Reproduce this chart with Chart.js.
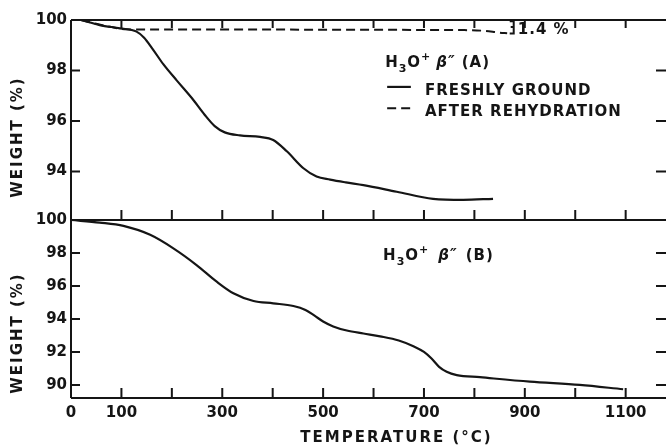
<!DOCTYPE html>
<html>
<head>
<meta charset="UTF-8">
<title>TGA H3O+ beta'' alumina</title>
<script src="https://cdn.jsdelivr.net/npm/chart.js"></script>
<style>
  html, body { margin: 0; padding: 0; background: #fff; overflow: hidden; }
  #wrap { width: 666px; height: 445px; }
</style>
</head>
<body>
<div id="wrap"><canvas id="tga" width="666" height="445"></canvas></div>
<script>
// --- data ---
// panel A, freshly ground
var tempA = [20, 57, 97, 130, 145, 162, 183, 210, 240, 265, 285, 305, 335, 375, 401, 428, 461, 487, 514, 545, 580, 646, 718, 778, 837];
var weightA = [100, 99.8, 99.67, 99.54, 99.3, 98.85, 98.25, 97.6, 96.9, 96.25, 95.8, 95.55, 95.43, 95.37, 95.25, 94.8, 94.13, 93.8, 93.68, 93.57, 93.46, 93.2, 92.92, 92.88, 92.92];
// panel A, after rehydration (dashed)
var tempARehyd = [20, 50, 80, 110, 200, 400, 600, 780, 820, 850, 865];
var weightARehyd = [100, 99.85, 99.72, 99.63, 99.62, 99.62, 99.61, 99.6, 99.57, 99.5, 99.48];
// panel B
var tempB = [0, 57, 104, 157, 203, 249, 289, 322, 362, 401, 441, 465, 483, 500, 520, 547, 580, 613, 650, 679, 700, 715, 730, 745, 765, 811, 910, 1009, 1095];
var weightB = [100, 99.84, 99.64, 99.1, 98.28, 97.27, 96.26, 95.56, 95.09, 94.95, 94.79, 94.55, 94.2, 93.85, 93.55, 93.3, 93.12, 92.95, 92.7, 92.35, 92.0, 91.6, 91.1, 90.8, 90.6, 90.47, 90.2, 90.0, 89.74];

// axes
var xTicks = [0, 100, 200, 300, 400, 500, 600, 700, 800, 900, 1000, 1100];
var xLabels = [0, 100, 300, 500, 700, 900, 1100];
var yTicksA = [100, 98, 96, 94];
var yTicksB = [100, 98, 96, 94, 92, 90];

var ink = '#151515';
var tickFont = { family: 'DejaVu Sans', size: 15, weight: 'bold' };

function toPoints(xs, ys) {
    return xs.map(function (t, i) { return { x: t, y: ys[i] }; });
}

// text in pieces (sub/superscripts)
function drawPieces(ctx, x, y, pieces) {
    pieces.forEach(function (p) {
        ctx.font = p.font;
        ctx.fillText(p.text, x, y + (p.dy || 0));
        x += ctx.measureText(p.text).width + (p.gap || 0);
    });
}

// frame, inward ticks and the lettering
var framePlugin = {
    id: 'frame',
    afterDraw: function (chart) {
        var ctx = chart.ctx;
        var x = chart.scales.x, ya = chart.scales.yA, yb = chart.scales.yB;
        ctx.save();
        ctx.strokeStyle = ink;
        ctx.fillStyle = ink;
        ctx.lineWidth = 2;
        ctx.beginPath();
        ctx.moveTo(x.left, ya.top); ctx.lineTo(x.left, yb.bottom);
        [ya.top, ya.bottom, yb.bottom].forEach(function (y) {
            ctx.moveTo(x.left, y); ctx.lineTo(x.right, y);
        });
        xTicks.forEach(function (t) {
            if (t === 0) return;
            var px = x.getPixelForValue(t);
            ctx.moveTo(px, ya.top); ctx.lineTo(px, ya.top + 8);
            ctx.moveTo(px, ya.bottom); ctx.lineTo(px, ya.bottom - 10);
            ctx.moveTo(px, yb.bottom); ctx.lineTo(px, yb.bottom - 10);
        });
        [[ya, yTicksA], [yb, yTicksB]].forEach(function (pair) {
            pair[1].forEach(function (v) {
                if (v === 100) return;
                var py = pair[0].getPixelForValue(v);
                ctx.moveTo(x.left, py); ctx.lineTo(x.left + 9, py);
                ctx.moveTo(x.right, py); ctx.lineTo(x.right - 10, py);
            });
        });
        ctx.stroke();

        // 1.4 % bracket
        var bx = x.getPixelForValue(876);
        ctx.beginPath();
        ctx.lineWidth = 2;
        ctx.moveTo(bx - 3, ya.getPixelForValue(99.95)); ctx.lineTo(bx + 1, ya.getPixelForValue(99.95));
        ctx.lineTo(bx + 1, ya.getPixelForValue(99.47));
        ctx.lineTo(bx - 3, ya.getPixelForValue(99.47));
        ctx.moveTo(bx + 1, ya.getPixelForValue(99.72)); ctx.lineTo(bx - 2, ya.getPixelForValue(99.72));
        ctx.stroke();

        ctx.textBaseline = 'alphabetic';
        ctx.letterSpacing = '1px';
        var f = 'bold 15px "DejaVu Sans"';
        ctx.font = f;
        ctx.fillText('1.4 %', x.getPixelForValue(886), ya.getPixelForValue(99.46));

        // panel labels
        var sub = 'bold 11px "DejaVu Sans"';
        var ital = 'italic bold 15px "DejaVu Sans"';
        drawPieces(ctx, x.getPixelForValue(623), ya.getPixelForValue(98.14), [
            { text: 'H', font: f }, { text: '3', font: sub, dy: 5 }, { text: 'O', font: f },
            { text: '+', font: sub, dy: -7, gap: 5 }, { text: 'β″', font: ital, gap: 6 }, { text: '(A)', font: f }
        ]);
        drawPieces(ctx, x.getPixelForValue(619), yb.getPixelForValue(97.58), [
            { text: 'H', font: f }, { text: '3', font: sub, dy: 5 }, { text: 'O', font: f },
            { text: '+', font: sub, dy: -7, gap: 9 }, { text: 'β″', font: ital, gap: 8 }, { text: '(B)', font: f }
        ]);

        // legend
        var ds = chart.data.datasets;
        [[0, 97.35, 97.03], [1, 96.51, 96.2]].forEach(function (row) {
            var d = ds[row[0]];
            var py = ya.getPixelForValue(row[1]);
            ctx.beginPath();
            ctx.lineWidth = d.borderWidth;
            ctx.setLineDash(d.borderDash || []);
            ctx.moveTo(x.getPixelForValue(627), py);
            ctx.lineTo(x.getPixelForValue(674), py);
            ctx.stroke();
            ctx.setLineDash([]);
            ctx.font = f;
            ctx.fillText(d.label, x.getPixelForValue(702), ya.getPixelForValue(row[2]));
        });

        // axis titles
        ctx.letterSpacing = '2px';
        ctx.textAlign = 'center';
        ctx.fillText('TEMPERATURE (°C)', (x.left + x.right) / 2 + 28, chart.height - 3);
        [[ya, 137], [yb, 333]].forEach(function (pair) {
            ctx.save();
            ctx.translate(22, pair[1]);
            ctx.rotate(-Math.PI / 2);
            ctx.fillText('WEIGHT (%)', 0, 0);
            ctx.restore();
        });
        ctx.restore();
    }
};

function yAxis(min, ticks, weight) {
    return {
        type: 'linear',
        position: 'left',
        stack: 'weight',
        stackWeight: weight,
        min: min,
        max: 100,
        grid: { display: false, drawTicks: false },
        border: { display: false },
        afterBuildTicks: function (axis) { axis.ticks = ticks.map(function (v) { return { value: v }; }); },
        afterFit: function (axis) { axis.width = 71; },
        ticks: { color: ink, font: tickFont, padding: 4, autoSkip: false }
    };
}

new Chart(document.getElementById('tga'), {
    type: 'line',
    data: {
        datasets: [
            { label: 'FRESHLY GROUND', data: toPoints(tempA, weightA), yAxisID: 'yA',
              borderColor: ink, borderWidth: 2.2, pointRadius: 0, cubicInterpolationMode: 'monotone', fill: false },
            { label: 'AFTER REHYDRATION', data: toPoints(tempARehyd, weightARehyd), yAxisID: 'yA',
              borderColor: ink, borderWidth: 2, borderDash: [9, 5], pointRadius: 0, cubicInterpolationMode: 'monotone', fill: false },
            { label: 'B', data: toPoints(tempB, weightB), yAxisID: 'yB',
              borderColor: ink, borderWidth: 2.2, pointRadius: 0, cubicInterpolationMode: 'monotone', fill: false }
        ]
    },
    options: {
        responsive: false,
        animation: false,
        layout: { padding: { top: 20, right: 0, left: 0, bottom: 0 } },
        plugins: { legend: { display: false }, tooltip: { enabled: false } },
        scales: {
            x: {
                type: 'linear',
                min: 0,
                max: 1180,
                grid: { display: false, drawTicks: false },
                border: { display: false },
                afterBuildTicks: function (axis) { axis.ticks = xTicks.map(function (v) { return { value: v }; }); },
                afterFit: function (axis) { axis.height = 47; },
                ticks: {
                    color: ink, font: tickFont, padding: 6, autoSkip: false, maxRotation: 0,
                    callback: function (v) { return xLabels.indexOf(v) >= 0 ? String(v) : ''; }
                }
            },
            // bottom panel first so the top panel is stacked above it
            yB: yAxis(89.21, yTicksB, 178),
            yA: yAxis(92.08, yTicksA, 200)
        }
    },
    plugins: [framePlugin]
});
</script>
</body>
</html>
